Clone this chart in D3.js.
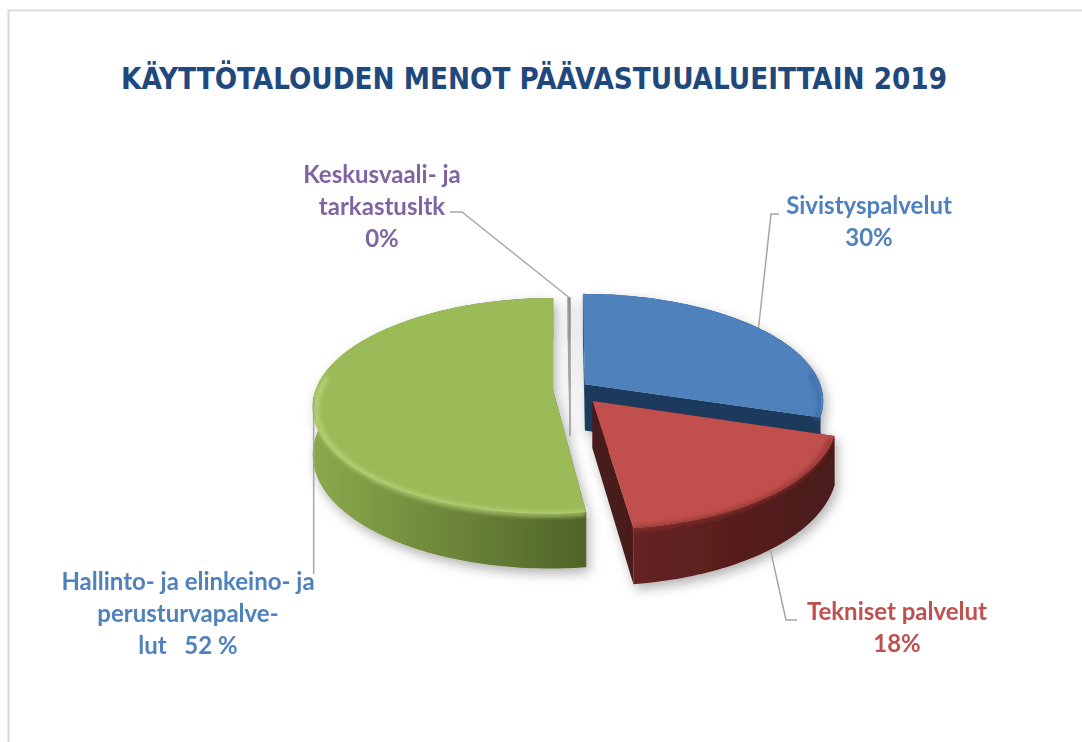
<!DOCTYPE html>
<html>
<head>
<meta charset="utf-8">
<script src="https://cdn.jsdelivr.net/npm/d3@7"></script>
<style>
  body { margin: 0; background: #ffffff; }
  #chart { width: 1082px; height: 742px; }
</style>
</head>
<body>
<div id="chart"></div>
<script>
// --- data ---
const title = "KÄYTTÖTALOUDEN MENOT PÄÄVASTUUALUEITTAIN 2019";
const categories = [
  "Sivistyspalvelut",
  "Tekniset palvelut",
  "Hallinto- ja elinkeino- ja perusturvapalvelut",
  "Keskusvaali- ja tarkastusltk"
];
const shares = [30, 18, 52, 0.15];
const labelLines = [
  ["Sivistyspalvelut", "30%"],
  ["Tekniset palvelut", "18%"],
  ["Hallinto- ja elinkeino- ja", "perusturvapalve-", "lut   52 %"],
  ["Keskusvaali- ja", "tarkastusltk", "0%"]
];

// --- style / layout ---
const W = 1082, H = 742;
const topColors  = ["#4f81bd", "#c0504d", "#9bbb59", "#8064a2"];
const sideDark   = ["#1d3a5c", "#4a1a1a", "#4f6328", "#3f3151"];
const sideLight  = ["#2f5584", "#662322", "#8aa94c", "#5f4b7a"];
const bevel      = ["#3d6ca6", "#8e302e", "#c0da7f", "#8064a2"];
const labelColors = ["#4f81bd", "#c0504d", "#4f81bd", "#8064a2"];
const explode = [0.078, 0.146, 0.072, 0];

const cx0 = 570, cy0 = 389, S = 237;
const sinPhi = 0.444, cosPhi = 0.896, persp = 0.15, depth = 0.22;

function project(u, v, h) {
  const w = 1 + persp * v;
  return [cx0 + S * u / w, cy0 - S * (sinPhi * v + cosPhi * h) / w];
}

const svg = d3.select("#chart").append("svg")
  .attr("width", W).attr("height", H)
  .style("font-family", "Lato, 'Open Sans', sans-serif");

const defs = svg.append("defs");
const shadow = defs.append("filter").attr("id", "shadow")
  .attr("x", "-20%").attr("y", "-20%").attr("width", "140%").attr("height", "150%");
shadow.append("feDropShadow").attr("dx", 3).attr("dy", 5)
  .attr("stdDeviation", 6).attr("flood-color", "#000").attr("flood-opacity", 0.3);
defs.append("filter").attr("id", "soft")
  .append("feGaussianBlur").attr("stdDeviation", 2);

sideDark.forEach((c, i) => {
  const g = defs.append("linearGradient").attr("id", "wall" + i)
    .attr("x1", "0%").attr("x2", "100%").attr("y1", "0%").attr("y2", "0%");
  g.append("stop").attr("offset", "0%").attr("stop-color", sideLight[i]);
  g.append("stop").attr("offset", "100%").attr("stop-color", c);
});

// frame
svg.append("rect")
  .attr("x", 8.5).attr("y", 10.5).attr("width", 1100).attr("height", 800)
  .attr("fill", "none").attr("stroke", "#d9d9d9").attr("stroke-width", 2);

// title
svg.append("text")
  .attr("x", 121).attr("y", 89)
  .attr("textLength", 826).attr("lengthAdjust", "spacingAndGlyphs")
  .attr("fill", "#1f497d")
  .attr("font-family", "'DejaVu Sans Condensed', 'Liberation Sans Narrow', sans-serif")
  .attr("font-weight", "bold")
  .attr("font-size", 31)
  .text(title);

// --- pie geometry ---
const arcs = d3.pie().sort(null).value(d => d)(shares);

const slices = arcs.map((a, i) => {
  const mid = (a.startAngle + a.endAngle) / 2;
  const ou = explode[i] * Math.sin(mid), ov = explode[i] * Math.cos(mid);
  const n = Math.max(2, Math.ceil((a.endAngle - a.startAngle) / 0.02));
  const angles = d3.range(n + 1).map(k => a.startAngle + (a.endAngle - a.startAngle) * k / n);
  const rim = h => angles.map(t => project(ou + Math.sin(t), ov + Math.cos(t), h));
  return {
    i, mid, ou, ov, angles,
    apexTop: project(ou, ov, 0),
    apexBot: project(ou, ov, -depth),
    rimTop: rim(0),
    rimBot: rim(-depth),
    at: (t, r, h) => project(ou + r * Math.sin(t), ov + r * Math.cos(t), h)
  };
});

const line = d3.line();
const pieG = svg.append("g").attr("filter", "url(#shadow)");

// far slices first
const order = slices.slice().sort((a, b) => Math.cos(b.mid) - Math.cos(a.mid));

order.forEach(s => {
  const g = pieG.append("g");
  const thin = shares[s.i] < 1;
  const stroke = thin ? "#a6a6a6" : "none";
  const last = s.rimTop.length - 1;
  // cut faces
  [0, last].forEach(k => {
    g.append("path")
      .attr("d", line([s.apexTop, s.rimTop[k], s.rimBot[k], s.apexBot]) + "Z")
      .attr("fill", sideDark[s.i]).attr("stroke", stroke);
  });
  // outer wall
  g.append("path")
    .attr("d", line(s.rimTop.concat(s.rimBot.slice().reverse())) + "Z")
    .attr("fill", `url(#wall${s.i})`).attr("stroke", stroke);
  // top face
  g.append("path")
    .attr("d", line([s.apexTop].concat(s.rimTop)) + "Z")
    .attr("fill", topColors[s.i]).attr("stroke", stroke);
  // bevel along the near rim
  if (!thin) {
    const near = s.angles.filter(t => Math.cos(t) < 0.15)
      .map(t => s.at(t, 0.985, -0.012));
    if (near.length > 1) {
      g.append("path")
        .attr("d", line(near))
        .attr("fill", "none").attr("stroke", bevel[s.i])
        .attr("stroke-width", 5).attr("opacity", 0.75)
        .attr("filter", "url(#soft)");
    }
  }
});

// --- labels and leaders ---
const labelPos = [
  { x: 869, y: 214, leader: s => [s.at(s.mid, 1, 0), [771, 214], [779, 214]] },
  { x: 897, y: 620, leader: s => [s.at(s.mid, 1, -depth), [786, 620], [797, 620]] },
  { x: 188, y: 590, leader: s => [s.at(s.mid, 1, 0), [s.at(s.mid, 1, 0)[0], 574]] },
  { x: 382, y: 183, leader: s => [[450, 212], [462, 212], s.at(s.mid, 1, 0)] }
];
const lineGap = 32;

slices.forEach(s => {
  const p = labelPos[s.i];
  svg.append("path")
    .attr("d", line(p.leader(s)))
    .attr("fill", "none").attr("stroke", "#a6a6a6").attr("stroke-width", 1.5);
  const t = svg.append("text")
    .attr("text-anchor", "middle")
    .attr("fill", labelColors[s.i])
    .attr("font-weight", "bold")
    .attr("font-size", 24);
  labelLines[s.i].forEach((ln, k) => {
    t.append("tspan").attr("x", p.x).attr("y", p.y + k * lineGap)
      .attr("xml:space", "preserve").style("white-space", "pre").text(ln);
  });
});
</script>
</body>
</html>
